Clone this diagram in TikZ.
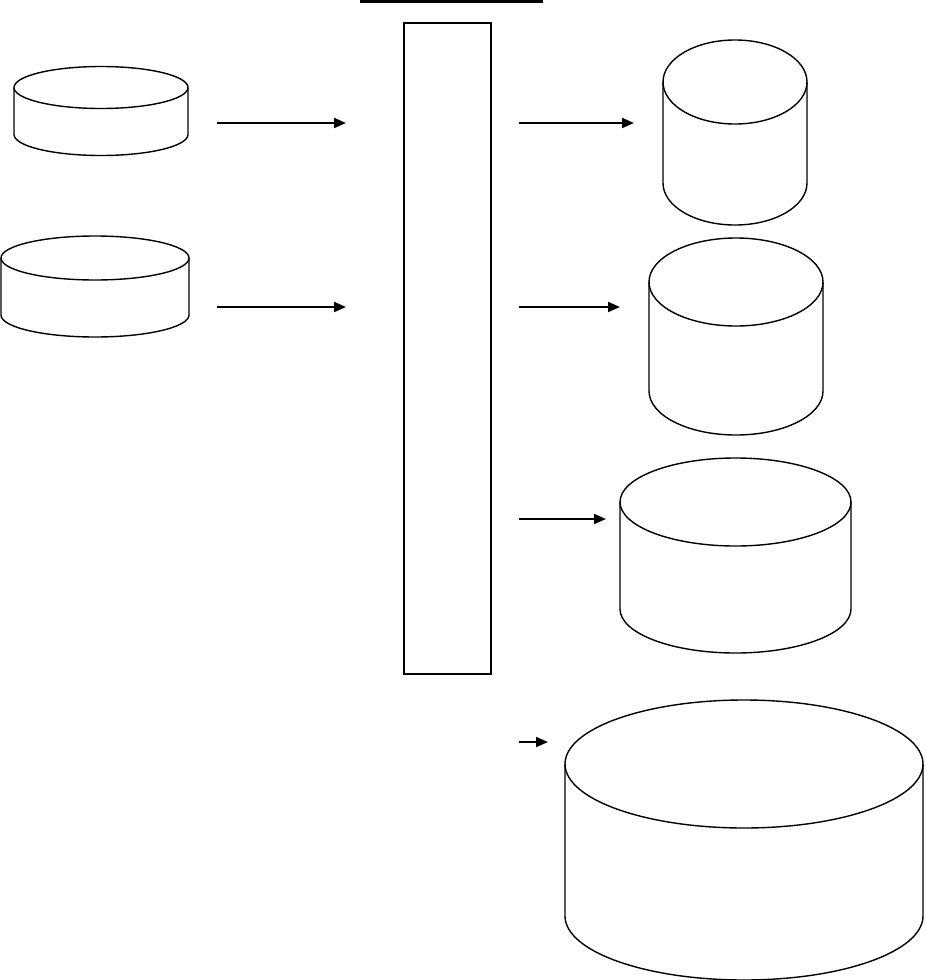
\documentclass[tikz,border=0pt]{standalone}
\usetikzlibrary{arrows.meta}
\newcommand\drumcyl[5]{% cx, cy(top centre), rx, ry, height
  \draw[cylline] ({#1-#3},#2) -- ({#1-#3},{#2+#5})
     arc[start angle=180, end angle=0, x radius=#3, y radius=#4] -- ({#1+#3},#2);
  \draw[cylline] (#1,#2) ellipse[x radius=#3, y radius=#4];
}
\begin{document}
\begin{tikzpicture}[x=1pt,y=-1pt,
  cylline/.style={line width=1.4pt, line join=round},
  flow/.style={line width=2pt, -{Triangle[length=12pt,width=10pt]}},
  bar/.style={draw, line width=2pt, inner sep=0pt, minimum width=87pt, minimum height=651pt}]
\useasboundingbox (0,0) rectangle (926,980);
% title underline
\draw[line width=3pt] (360,1.5) -- (543,1.5);
% central processing bar
\node[bar] (box) at (447,348.5) {};
% left cylinders
\drumcyl{101}{87.5}{87}{21}{47}
\drumcyl{95}{258}{94}{22}{57}
% right cylinders
\drumcyl{735}{82}{72}{42}{101}
\drumcyl{736}{282}{87}{44}{109}
\drumcyl{735.5}{502}{115.5}{44}{107}
\drumcyl{744}{764}{179}{64}{152}
% arrow endpoints
\coordinate (a1s) at (217,123); \coordinate (a1e) at (346,123);
\coordinate (a2s) at (217,307); \coordinate (a2e) at (346,307);
\coordinate (b1s) at (519,123); \coordinate (b1e) at (634,123);
\coordinate (b2s) at (519,307); \coordinate (b2e) at (620,307);
\coordinate (b3s) at (519,519); \coordinate (b3e) at (606,519);
\coordinate (b4s) at (519,742); \coordinate (b4e) at (548,742);
\draw[flow] (a1s) -- (a1e);
\draw[flow] (a2s) -- (a2e);
\draw[flow] (b1s) -- (b1e);
\draw[flow] (b2s) -- (b2e);
\draw[flow] (b3s) -- (b3e);
\draw[flow] (b4s) -- (b4e);
\end{tikzpicture}
\end{document}
